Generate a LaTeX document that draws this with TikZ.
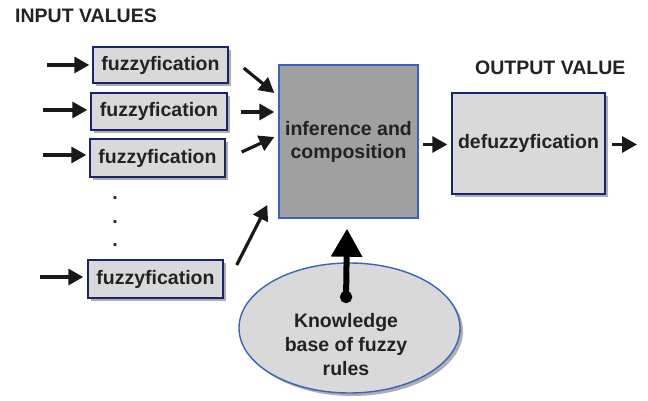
\documentclass[tikz,border=0pt]{standalone}
\usepackage{fontspec}
\setmainfont{Liberation Sans}
\usetikzlibrary{arrows.meta,shadows,calc,shapes.geometric}
\definecolor{boxfill}{HTML}{D9D9D9}
\definecolor{boxline}{HTML}{1C2270}
\definecolor{inffill}{HTML}{A0A0A0}
\definecolor{blueline}{HTML}{3A62BE}
\definecolor{txt}{HTML}{222222}
\tikzset{
  lbl/.style={font=\bfseries\fontsize{19.5}{23}\selectfont, text=txt},
  fuzbox/.style={draw=boxline, line width=1.4pt, fill=boxfill, inner sep=0pt,
    lbl, drop shadow={shadow xshift=3pt, shadow yshift=-3pt, fill=black!45, opacity=0.7}},
  infbox/.style={draw=blueline, line width=1.4pt, fill=inffill, inner sep=0pt, lbl, align=center},
  kbell/.style={ellipse, draw=blueline, line width=1.4pt, fill=boxfill, inner sep=0pt,
    drop shadow={shadow xshift=3pt, shadow yshift=-3pt, fill=black!45, opacity=0.7}},
  kbtxt/.style={font=\bfseries\fontsize{19.5}{24}\selectfont, text=txt, align=center, inner sep=0pt},
  arr/.style={line width=3.2pt, draw=black!90, -{Triangle[length=15pt,width=16pt]}},
  bigarr/.style={line width=6pt, draw=black, {Circle[length=12pt,width=12pt]}-{Triangle[length=28pt,width=30pt]}},
  dotlbl/.style={font=\bfseries\fontsize{19.5}{23}\selectfont, text=txt, inner sep=0pt, anchor=base},
}
\begin{document}
\begin{tikzpicture}[x=1pt,y=-1pt]
\useasboundingbox (0,0) rectangle (648,401);
% titles
\node[lbl, anchor=base west, inner sep=0pt] (tin) at (15,23) {INPUT VALUES};
\node[lbl, anchor=base west, inner sep=0pt] (tout) at (475,75) {OUTPUT VALUE};
% fuzzyfication boxes
\node[fuzbox, minimum width=135pt, minimum height=36pt] (b1) at (160.5,65) {fuzzyfication};
\node[fuzbox, minimum width=136pt, minimum height=37pt] (b2) at (159,111.5) {fuzzyfication};
\node[fuzbox, minimum width=135pt, minimum height=38pt] (b3) at (157.5,158) {fuzzyfication};
\node[fuzbox, minimum width=135pt, minimum height=38pt] (b4) at (155.5,279) {fuzzyfication};
% dots
\node[dotlbl] (d1) at (115,199) {.};
\node[dotlbl] (d2) at (115,223) {.};
\node[dotlbl] (d3) at (115,246) {.};
% inference
\node[infbox, minimum width=139pt, minimum height=153pt] (inf) at (348.5,141.5) {inference and\\composition};
% defuzzyfication
\node[fuzbox, minimum width=153pt, minimum height=101pt] (def) at (528.5,143.5) {defuzzyfication};
% knowledge base
\node[kbell, minimum width=221pt, minimum height=130pt] (kb) at (349.5,328) {};
\node[kbtxt] (kbt) at (346,345) {Knowledge\\base of fuzzy\\rules};
% input free ends
\coordinate (i1) at (47,65);
\coordinate (i2) at (43,110);
\coordinate (i3) at (43,155);
\coordinate (i4) at (40,277);
\coordinate (o1) at (637,144.5);
% input arrows
\draw[arr] (i1) -- ([xshift=-3pt]b1.west |- i1);
\draw[arr] (i2) -- ([xshift=-3pt]b2.west |- i2);
\draw[arr] (i3) -- ([xshift=-3pt]b3.west |- i3);
\draw[arr] (i4) -- ([xshift=-4pt]b4.west |- i4);
% to inference
\draw[arr] ([shift={(15,3)}]b1.east) -- ([shift={(-4,-48.5)}]inf.west);
\draw[arr] ([shift={(13,0.5)}]b2.east) -- ([shift={(-4,-29.5)}]inf.west);
\draw[arr] ([shift={(16,-6)}]b3.east) -- ([shift={(-4,-4.5)}]inf.west);
\draw[arr] ([shift={(13,-14)}]b4.east) -- ([shift={(-11,63.5)}]inf.west);
% inference to defuzz
\draw[arr] ([shift={(4,3)}]inf.east) -- ([shift={(-4,1)}]def.west);
\draw[arr] ([shift={(6,1)}]def.east) -- (o1);
% knowledge arrow
\draw[bigarr] ([shift={(-3.5,-25)}]kb.center) -- ([shift={(-1.5,10)}]inf.south);
\end{tikzpicture}
\end{document}
